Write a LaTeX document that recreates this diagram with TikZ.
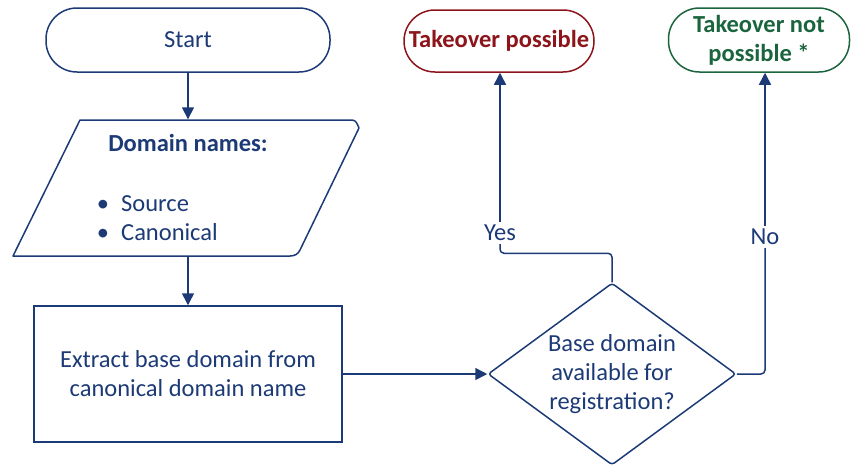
\documentclass[tikz,border=0pt]{standalone}
\usepackage{fontspec}
\setmainfont{Carlito}
\usetikzlibrary{shapes.geometric,arrows.meta}
\definecolor{navy}{RGB}{28,58,118}
\definecolor{wine}{RGB}{140,20,26}
\definecolor{pine}{RGB}{26,100,62}
\begin{document}
\begin{tikzpicture}[x=1pt,y=-1pt,
  txt/.style={font=\fontsize{24.5}{29}\selectfont, text=navy},
  boldtxt/.style={font=\fontsize{24.5}{29}\selectfont\bfseries},
  outline/.style={draw=navy, line width=1.5pt},
  terminal/.style={outline, txt, rectangle, rounded corners=31pt, align=center, inner sep=0pt},
  flow/.style={draw=navy, line width=1.5pt, -{Triangle[length=12pt,width=12pt]}},
  link/.style={draw=navy, line width=1.5pt},
  answer/.style={txt, inner sep=3pt}
]
\useasboundingbox (0,0) rectangle (851,467);

% terminals
\node[terminal, minimum width=284pt, minimum height=64pt] (start) at (188,40) {Start};
\node[terminal, boldtxt, draw=wine, text=wine, minimum width=190pt, minimum height=62pt] (yesend) at (499,41) {Takeover possible};
\node[terminal, boldtxt, draw=pine, text=pine, minimum width=181pt, minimum height=64pt] (noend) at (759,40) {Takeover not\\possible *};

% input parallelogram: outline drawn as a path, anchor box as a node
\node[minimum width=345pt, minimum height=137pt, inner sep=0pt] (input) at (188,188) {};
\draw[outline, line join=round]
  (80,120) -- (352,120) to[out=0,in=115] (359,128) -- (300,250) to[out=-115,in=0] (290,256) -- (13,256) -- cycle;
\node[txt, boldtxt, text=navy, anchor=base] (title) at (188,151) {Domain names:};
\node[txt, anchor=base] (dot1) at (103,211) {•};
\node[txt, anchor=base west, inner sep=0pt] (src) at (121,211) {Source};
\node[txt, anchor=base] (dot2) at (103,240) {•};
\node[txt, anchor=base west, inner sep=0pt] (can) at (121,240) {Canonical};

% process and decision
\node[outline, txt, minimum width=308pt, minimum height=136pt, align=center] (extract) at (188,374) {Extract base domain from\\canonical domain name};
\node[outline, txt, diamond, aspect=1.36, minimum width=248pt, minimum height=182pt, inner sep=0pt, align=center, rounded corners=3pt] (decide) at (612,374) {Base domain\\available for\\registration?};

% branch labels
\node[answer] (yes) at (500,233) {Yes};
\node[answer] (no) at (765,237) {No};

% connectors
\draw[flow] (start.south) -- (start.south |- input.north);
\draw[flow] (input.south) -- (extract.north);
\draw[flow] (extract.east) -- (decide.west);
\draw[link, rounded corners=4pt] (decide.north) -- ++(0,-29) -| (yes.south);
\draw[flow] (yes.north) -- (yes.north |- yesend.south);
\draw[link, rounded corners=4pt] (decide.east) -| (no.south);
\draw[flow] (no.north) -- (no.north |- noend.south);
\end{tikzpicture}
\end{document}
